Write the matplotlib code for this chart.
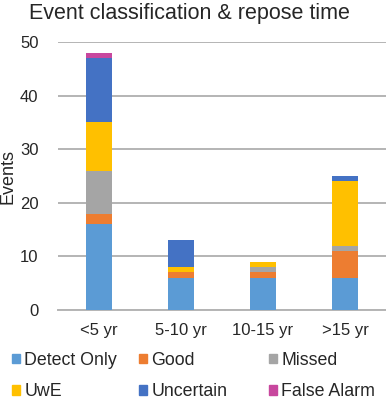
import numpy as np
import matplotlib
matplotlib.use("Agg")
import matplotlib.pyplot as plt
from matplotlib.patches import Patch

plt.rcParams['font.family'] = ['Liberation Sans', 'DejaVu Sans']

categories = ['<5 yr', '5-10 yr', '10-15 yr', '>15 yr']
detect_only = [16, 6, 6, 6]
good = [2, 1, 1, 5]
missed = [8, 0, 1, 1]
uwe = [9, 1, 1, 12]
uncertain = [12, 5, 0, 1]
false_alarm = [1, 0, 0, 0]

series = [
    ('Detect Only', detect_only, '#5B9BD5'),
    ('Good', good, '#ED7D31'),
    ('Missed', missed, '#A5A5A5'),
    ('UwE', uwe, '#FFC000'),
    ('Uncertain', uncertain, '#4472C4'),
    ('False Alarm', false_alarm, '#C8479E'),
]
txt = '#262626'

W, H = 386, 400
fig = plt.figure(figsize=(W / 100, H / 100), dpi=100)
ax = fig.add_axes([58 / W, 90 / H, 328 / W, 268 / H])

x = np.arange(len(categories))
bottom = np.zeros(len(categories))
for name, vals, col in series:
    ax.bar(x, vals, 0.32, bottom=bottom, color=col, label=name, zorder=3)
    bottom += np.array(vals)

ax.set_xlim(-0.5, len(categories) - 0.5)
ax.set_ylim(0, 50)
ax.set_yticks(range(0, 51, 10))
ax.yaxis.grid(True, color='#B4B4B4', linewidth=1.4, zorder=0)
for s in ['top', 'right', 'left']:
    ax.spines[s].set_visible(False)
ax.spines['bottom'].set_color('#B4B4B4')
ax.spines['bottom'].set_linewidth(1.4)
ax.tick_params(axis='both', length=0, labelsize=12, colors=txt)
ax.tick_params(axis='y', pad=14)
ax.tick_params(axis='x', pad=9)
ax.set_xticks(x)
ax.set_xticklabels(categories)
ax.set_ylabel('Events', fontsize=13, color=txt)
ax.yaxis.set_label_coords(-0.125, 0.5)

fig.text(189 / W, 1 - 13 / H, 'Event classification & repose time', ha='center', va='center',
         fontsize=15.5, color=txt)

# legend laid out row by row, one legend per column
col_x = [12, 139, 269]
for i, cx in enumerate(col_x):
    handles = [Patch(color=series[i][2], label=series[i][0]),
               Patch(color=series[i + 3][2], label=series[i + 3][0])]
    leg = fig.legend(handles=handles, loc='upper left', bbox_to_anchor=(cx / W, 1 - 352 / H),
                     frameon=False, fontsize=12.8, handlelength=0.45, handleheight=0.45,
                     handletextpad=0.25, labelspacing=0.8, borderpad=0, borderaxespad=0)
    for t in leg.get_texts():
        t.set_color(txt)

fig.savefig('out.png', dpi=100)
